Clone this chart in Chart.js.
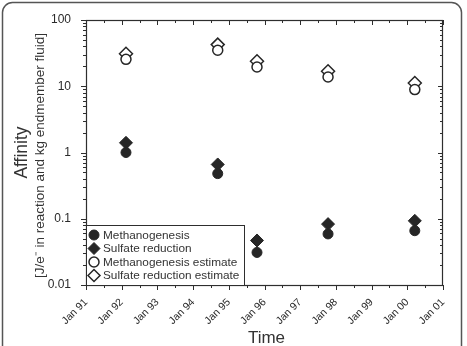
<!DOCTYPE html>
<html lang="en">
<head>
  <meta charset="UTF-8">
  <title>Affinity over time</title>
  <script src="https://cdn.jsdelivr.net/npm/chart.js"></script>
  <style>
    html, body {
      margin: 0;
      padding: 0;
      background: #fff;
    }
    #wrap {
      width: 467px;
      height: 346px;
      position: relative;
    }
  </style>
</head>
<body>
  <div id="wrap">
    <canvas id="affChart" width="467" height="346"></canvas>
  </div>

  <script>
    // sampling dates (decimal years) and affinities
    const dates = [1992.12, 1994.69, 1995.79, 1997.78, 2000.21];
    const methanogenesis = [1.0, 0.48, 0.031, 0.059, 0.066];
    const sulfateReduction = [1.4, 0.66, 0.047, 0.083, 0.093];
    const methEstimate = [25.5, 35, 19.5, 13.8, 8.9];
    const sulfEstimate = [31, 42.5, 23.8, 16.8, 11.2];

    const yTicks = [0.01, 0.1, 1, 10, 100];
    const yTickLabels = ["0.01", "0.1", "1", "10", "100"];
    const xYears = [1991, 1992, 1993, 1994, 1995, 1996, 1997, 1998, 1999, 2000, 2001];

    const ink = "#262626";
    const axisCol = "#2e2e2e";
    const font = "'Liberation Sans', Arial, sans-serif";

    function pts(vals) {
      return vals.map((v, i) => ({ x: dates[i], y: v }));
    }

    // frame, extra ticks, axis titles and legend
    const decor = {
      id: "decor",
      beforeDraw(chart) {
        const ctx = chart.ctx;
        ctx.save();
        ctx.strokeStyle = "#555";
        ctx.lineWidth = 1.5;
        ctx.beginPath();
        ctx.roundRect(2.5, 2.5, 459, 380, 10);
        ctx.stroke();
        ctx.restore();
      },
      afterDraw(chart) {
        const ctx = chart.ctx;
        const a = chart.chartArea;
        const xs = chart.scales.x;
        const ys = chart.scales.y;
        ctx.save();
        ctx.strokeStyle = axisCol;
        ctx.lineWidth = 1.2;
        ctx.strokeRect(a.left + 0.5, a.top + 0.5, a.right - a.left - 1, a.bottom - a.top);

        ctx.lineWidth = 1;
        ctx.beginPath();
        // x ticks every half year
        for (let t = xYears[0]; t <= xYears[xYears.length - 1] + 0.01; t += 0.5) {
          const px = Math.round(xs.getPixelForValue(t)) + 0.5;
          const major = Math.abs(t - Math.round(t)) < 0.01;
          const len = major ? 5 : 3;
          ctx.moveTo(px, a.bottom);
          ctx.lineTo(px, a.bottom + len);
          ctx.moveTo(px, a.top);
          ctx.lineTo(px, a.top + len);
        }
        // y ticks, decades and minors
        for (let d = 0; d < yTicks.length; d++) {
          const base = yTicks[d];
          for (let m = 1; m <= 9; m++) {
            if (d === yTicks.length - 1 && m > 1) break;
            const py = Math.round(ys.getPixelForValue(base * m)) + 0.5;
            const len = m === 1 ? 5 : 3;
            ctx.moveTo(a.left, py);
            ctx.lineTo(a.left - len, py);
            ctx.moveTo(a.right, py);
            ctx.lineTo(a.right - len, py);
          }
        }
        ctx.stroke();

        // axis titles
        ctx.fillStyle = "#333";
        ctx.textAlign = "center";
        ctx.textBaseline = "middle";
        const cy = (a.top + a.bottom) / 2;
        ctx.save();
        ctx.translate(22, cy);
        ctx.rotate(-Math.PI / 2);
        ctx.font = "17.5px " + font;
        ctx.fillText("Affinity", 0, 0);
        ctx.restore();
        ctx.save();
        ctx.translate(40, cy + 3);
        ctx.rotate(-Math.PI / 2);
        ctx.font = "13.5px " + font;
        ctx.fillText("[J/e\u207B in reaction and kg endmember fluid]", 0, 0);
        ctx.restore();
        ctx.font = "17px " + font;
        ctx.fillText("Time", (a.left + a.right) / 2 + 2, 338);

        // legend box in the lower left corner
        const labels = ["Methanogenesis", "Sulfate reduction", "Methanogenesis estimate", "Sulfate reduction estimate"];
        const lx = a.left, ly = 225, lw = 158, lh = a.bottom - ly;
        ctx.fillStyle = "#fff";
        ctx.fillRect(lx, ly, lw, lh);
        ctx.strokeStyle = axisCol;
        ctx.strokeRect(lx + 0.5, ly + 0.5, lw, lh);
        ctx.font = "11.8px " + font;
        ctx.textAlign = "left";
        chart.data.datasets.forEach((ds, i) => {
          const yy = 235 + i * 13.5;
          ctx.fillStyle = ds.pointBackgroundColor;
          ctx.strokeStyle = ds.pointBorderColor;
          ctx.lineWidth = ds.pointBorderWidth;
          Chart.helpers.drawPoint(ctx, { pointStyle: ds.pointStyle, radius: ds.pointStyle === "circle" ? 5 : 6, rotation: 0, borderWidth: ds.pointBorderWidth }, 94, yy);
          ctx.fillStyle = "#333";
          ctx.fillText(labels[i], 103, yy + 0.5);
        });
        ctx.restore();
      }
    };

    new Chart(document.getElementById("affChart"), {
      type: "scatter",
      data: {
        datasets: [
          { label: "Methanogenesis", data: pts(methanogenesis), pointStyle: "circle", pointRadius: 5, pointBackgroundColor: ink, pointBorderColor: ink, pointBorderWidth: 1 },
          { label: "Sulfate reduction", data: pts(sulfateReduction), pointStyle: "rectRot", pointRadius: 6.5, pointBackgroundColor: ink, pointBorderColor: ink, pointBorderWidth: 1 },
          { label: "Methanogenesis estimate", data: pts(methEstimate), pointStyle: "circle", pointRadius: 5, pointBackgroundColor: "#fff", pointBorderColor: ink, pointBorderWidth: 1.5 },
          { label: "Sulfate reduction estimate", data: pts(sulfEstimate), pointStyle: "rectRot", pointRadius: 6.5, pointBackgroundColor: "#fff", pointBorderColor: ink, pointBorderWidth: 1.5 }
        ]
      },
      options: {
        responsive: false,
        animation: false,
        layout: { padding: { left: 0, top: 20, right: 24, bottom: 0 } },
        plugins: {
          legend: { display: false },
          tooltip: { enabled: false }
        },
        scales: {
          x: {
            type: "linear",
            min: xYears[0],
            max: xYears[xYears.length - 1],
            afterBuildTicks(scale) {
              scale.ticks = xYears.map(v => ({ value: v }));
            },
            afterFit(scale) { scale.height = 61; },
            grid: { display: false },
            border: { display: false },
            ticks: {
              minRotation: 45,
              maxRotation: 45,
              padding: 3,
              color: "#2a2a2a",
              font: { family: font, size: 10.5 },
              callback: v => "Jan " + String(v).slice(2)
            }
          },
          y: {
            type: "logarithmic",
            min: yTicks[0],
            max: yTicks[yTicks.length - 1],
            afterBuildTicks(scale) {
              scale.ticks = yTicks.map(v => ({ value: v }));
            },
            afterFit(scale) { scale.width = 86; },
            grid: { display: false },
            border: { display: false },
            ticks: {
              padding: 7,
              color: "#2a2a2a",
              font: { family: font, size: 12 },
              callback: (v) => {
                const i = yTicks.indexOf(v);
                return i >= 0 ? yTickLabels[i] : "";
              }
            }
          }
        }
      },
      plugins: [decor]
    });
  </script>
</body>
</html>
